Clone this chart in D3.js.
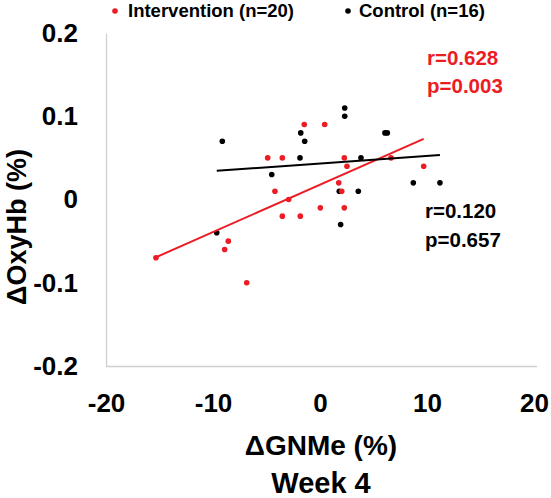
<!DOCTYPE html>
<html>
<head>
<meta charset="utf-8">
<script src="https://cdn.jsdelivr.net/npm/d3@7"></script>
<style>
  html, body { margin: 0; padding: 0; background: #fff; }
  svg { display: block; font-family: "Liberation Sans", Arial, sans-serif; font-weight: bold; }
</style>
</head>
<body>
<svg id="chart" width="551" height="498"></svg>
<script>
// ---- data ----
const interventionX = [-1.47, 0.44, -4.89, -3.52, 2.27, 6.64, 2.52, 9.69, 1.75, -4.21, 2.03, -2.93, 0.03, 2.27, -3.52, -1.84, -8.57, -8.91, -15.33, -6.85];
const interventionY = [0.09, 0.09, 0.05, 0.05, 0.05, 0.05, 0.04, 0.04, 0.02, 0.01, 0.01, 0.00, -0.01, -0.01, -0.02, -0.02, -0.05, -0.06, -0.07, -0.10];
const controlX = [2.31, 2.31, -1.80, -9.13, -1.43, 6.07, 6.29, -1.87, 3.83, -4.51, 8.72, 11.21, 1.80, 3.58, 1.93, -9.65];
const controlY = [0.11, 0.10, 0.08, 0.07, 0.07, 0.08, 0.08, 0.05, 0.05, 0.03, 0.02, 0.02, 0.01, 0.01, -0.03, -0.04];
const xTicks = [-20, -10, 0, 10, 20];
const xTickLabels = ["-20", "-10", "0", "10", "20"];
const yTicks = [0.2, 0.1, 0, -0.1, -0.2];
const yTickLabels = ["0.2", "0.1", "0", "-0.1", "-0.2"];
const seriesNames = ["Intervention (n=20)", "Control (n=16)"];
const statsIntervention = ["r=0.628", "p=0.003"];
const statsControl = ["r=0.120", "p=0.657"];
const xTitle = "ΔGNMe (%)";
const xSubTitle = "Week 4";
const yTitle = "ΔOxyHb (%)";

// ---- setup ----
const RED = "#ec1c24", BLACK = "#000000", AXIS = "#d0d0d0";
const svg = d3.select("#chart");
const x = d3.scaleLinear().domain([-20, 20]).range([106, 534]);
const y = d3.scaleLinear().domain([-0.2, 0.2]).range([366, 33]);

// axes
const xAxis = d3.axisBottom(x).tickValues(xTicks).tickSize(0).tickPadding(27.5)
  .tickFormat((d, i) => xTickLabels[i]);
const yAxis = d3.axisLeft(y).tickValues(yTicks).tickSize(0).tickPadding(28)
  .tickFormat((d, i) => yTickLabels[i]);

const gx = svg.append("g").attr("transform", `translate(0,${y(-0.2)})`).call(xAxis);
const gy = svg.append("g").attr("transform", `translate(${x(-20)},0)`).call(yAxis);
[gx, gy].forEach(g => {
  g.select(".domain").attr("stroke", AXIS).attr("stroke-width", 1.3);
  g.selectAll("text").attr("font-size", 26).attr("font-weight", "bold")
    .attr("font-family", "Liberation Sans, Arial, sans-serif").attr("fill", "#000");
});
gx.select(".domain").attr("d", `M${x(-20)},0.5H${x(20) + 3}`);

// regression helper (least squares over each series' x extent)
function fit(xs, ys) {
  const n = xs.length, mx = d3.mean(xs), my = d3.mean(ys);
  let sxy = 0, sxx = 0;
  for (let i = 0; i < n; i++) { sxy += (xs[i] - mx) * (ys[i] - my); sxx += (xs[i] - mx) ** 2; }
  const b = sxy / sxx, a = my - b * mx;
  const [x0, x1] = d3.extent(xs);
  return [[x0, a + b * x0], [x1, a + b * x1]];
}

const series = [
  { xs: interventionX, ys: interventionY, color: RED },
  { xs: controlX, ys: controlY, color: BLACK }
];

// points
series.slice().reverse().forEach(s => {
  svg.append("g").selectAll("circle").data(s.xs.map((v, i) => [v, s.ys[i]]))
    .join("circle")
    .attr("cx", d => x(d[0])).attr("cy", d => y(d[1])).attr("r", 2.8)
    .attr("fill", s.color);
});

// trend lines
const line = d3.line().x(d => x(d[0])).y(d => y(d[1]));
series.forEach(s => {
  svg.append("path").attr("d", line(fit(s.xs, s.ys)))
    .attr("stroke", s.color).attr("stroke-width", 2).attr("fill", "none");
});

// titles
svg.append("text").attr("x", 321).attr("y", 455).attr("text-anchor", "middle")
  .attr("font-size", 28).text(xTitle);
svg.append("text").attr("x", 321).attr("y", 493).attr("text-anchor", "middle")
  .attr("font-size", 29).text(xSubTitle);
svg.append("text").attr("transform", "translate(25.5,227) rotate(-90)").attr("text-anchor", "middle")
  .attr("font-size", 27).text(yTitle);

// legend
const legendItems = [
  { name: seriesNames[0], color: RED, dx: 115, tx: 128 },
  { name: seriesNames[1], color: BLACK, dx: 348, tx: 359 }
];
legendItems.forEach(it => {
  svg.append("circle").attr("cx", it.dx).attr("cy", 11).attr("r", 2.8).attr("fill", it.color);
  svg.append("text").attr("x", it.tx).attr("y", 17).attr("font-size", 18.5).attr("fill", "#000").text(it.name);
});

// stats
statsIntervention.forEach((t, i) => {
  svg.append("text").attr("x", 427).attr("y", 65 + i * 28).attr("font-size", 20.5).attr("fill", RED).text(t);
});
statsControl.forEach((t, i) => {
  svg.append("text").attr("x", 425).attr("y", 218 + i * 29).attr("font-size", 20.5).attr("fill", BLACK).text(t);
});
</script>
</body>
</html>
